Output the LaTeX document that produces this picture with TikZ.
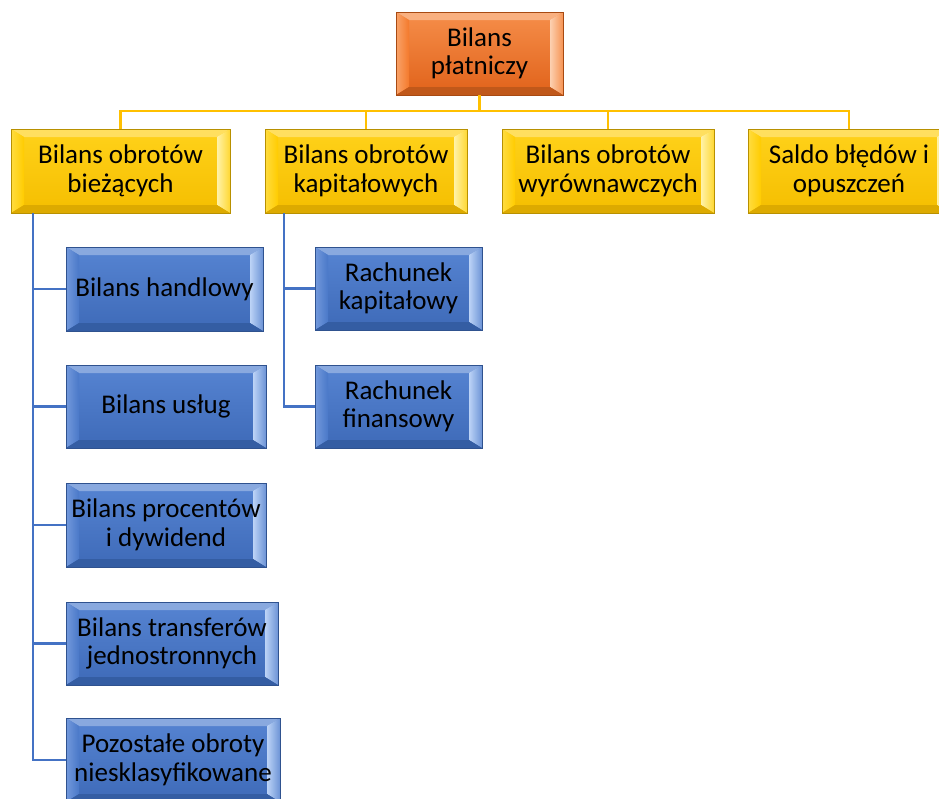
\documentclass[tikz,border=0pt]{standalone}
\usepackage{fontspec}
\setmainfont{Carlito}
\usetikzlibrary{calc}
\definecolor{orF}{HTML}{F47A2C}
\definecolor{orT}{HTML}{F68E4A}
\definecolor{orB}{HTML}{E0621A}
\definecolor{orL}{HTML}{F9A36A}
\definecolor{orR}{HTML}{FCD0B0}
\definecolor{orD}{HTML}{C0581A}
\definecolor{orE}{HTML}{A84A12}
\definecolor{ylF}{HTML}{FFCC00}
\definecolor{ylT}{HTML}{FFD21A}
\definecolor{ylB}{HTML}{F5BE00}
\definecolor{ylL}{HTML}{FFDC40}
\definecolor{ylR}{HTML}{FFF2A8}
\definecolor{ylD}{HTML}{DDAA00}
\definecolor{ylE}{HTML}{B89000}
\definecolor{blF}{HTML}{4A78C8}
\definecolor{blT}{HTML}{5684D2}
\definecolor{blB}{HTML}{3E6AB8}
\definecolor{blL}{HTML}{7299DC}
\definecolor{blR}{HTML}{BCD3F6}
\definecolor{blD}{HTML}{345DA3}
\definecolor{blE}{HTML}{2F528F}
\definecolor{yline}{HTML}{FFC000}
\definecolor{bline}{HTML}{4472C4}
\tikzset{
  bev/.style={rectangle, inner sep=0pt, align=center, text=black,
    font=\fontsize{27}{28.5}\selectfont,
    top color=#1T, bottom color=#1B, draw=#1E, line width=0.8pt,
    path picture={
      \coordinate (pnw) at (path picture bounding box.north west);
      \coordinate (pne) at (path picture bounding box.north east);
      \coordinate (psw) at (path picture bounding box.south west);
      \coordinate (pse) at (path picture bounding box.south east);
      \fill[#1T!70!white] (pnw) -- (pne) -- ([shift={(-13pt,-8pt)}]pne) -- ([shift={(13pt,-8pt)}]pnw) -- cycle;
      \shade[left color=#1L, right color=#1F] (pnw) -- ([shift={(13pt,-8pt)}]pnw) -- ([shift={(13pt,8pt)}]psw) -- (psw) -- cycle;
      \shade[left color=#1R, right color=#1F!70!#1R] (pne) -- ([shift={(-13pt,-8pt)}]pne) -- ([shift={(-13pt,8pt)}]pse) -- (pse) -- cycle;
      \fill[#1D] (psw) -- ([shift={(13pt,8pt)}]psw) -- ([shift={(-13pt,8pt)}]pse) -- (pse) -- cycle;
    }},
  yln/.style={draw=yline, line width=2.6pt},
  bln/.style={draw=bline, line width=2.8pt},
}
\newcommand{\bbox}[7]{%
  \pgfmathsetmacro{\bw}{#4-#2}%
  \pgfmathsetmacro{\bh}{#5-#3}%
  \pgfmathsetmacro{\bx}{(#2+#4)/2}%
  \pgfmathsetmacro{\by}{(#3+#5)/2}%
  \node[bev=#6, minimum width=\bw pt, minimum height=\bh pt] (#1) at (\bx,\by) {#7};%
}
\begin{document}
\begin{tikzpicture}[x=1pt,y=-1pt]
\useasboundingbox (0,0) rectangle (939,798);
\fill[white] (0,0) rectangle (939,798);
\coordinate (hy) at (0,111);
\coordinate (lv1) at (33,213);
\coordinate (lv2) at (284,213);
% boxes
\bbox{top}{396}{12}{563}{95}{or}{Bilans\\płatniczy}
\bbox{b1}{11}{129}{230}{213}{yl}{Bilans obrotów\\bieżących}
\bbox{b2}{265}{129}{467}{213}{yl}{Bilans obrotów\\kapitałowych}
\bbox{b3}{502}{129}{714}{213}{yl}{Bilans obrotów\\wyrównawczych}
\bbox{b4}{748}{129}{950}{213}{yl}{Saldo błędów i\\opuszczeń}
\bbox{c1}{66}{247}{263}{331}{bl}{Bilans handlowy}
\bbox{c2}{66}{365}{266}{448}{bl}{Bilans usług}
\bbox{c3}{66}{483}{266}{567}{bl}{Bilans procentów\\i dywidend}
\bbox{c4}{66}{602}{278}{685}{bl}{Bilans transferów\\jednostronnych}
\bbox{c5}{66}{718}{280}{802}{bl}{Pozostałe obroty\\niesklasyfikowane}
\bbox{d1}{315}{247}{482}{330}{bl}{Rachunek\\kapitałowy}
\bbox{d2}{315}{365}{482}{448}{bl}{Rachunek\\finansowy}
% yellow connectors
\draw[yln] (top.south) -- (top.south |- hy);
\draw[yln] (b1.north) -- (b1.north |- hy) -- (b4.north |- hy) -- (b4.north);
\draw[yln] (b2.north |- hy) -- (b2.north);
\draw[yln] (b3.north |- hy) -- (b3.north);
% blue connectors
\draw[bln] (lv1) |- (c1.west);
\draw[bln] (lv1) |- (c2.west);
\draw[bln] (lv1) |- (c3.west);
\draw[bln] (lv1) |- (c4.west);
\draw[bln] (lv1) |- (c5.west);
\draw[bln] (lv2) |- (d1.west);
\draw[bln] (lv2) |- (d2.west);
\end{tikzpicture}
\end{document}
